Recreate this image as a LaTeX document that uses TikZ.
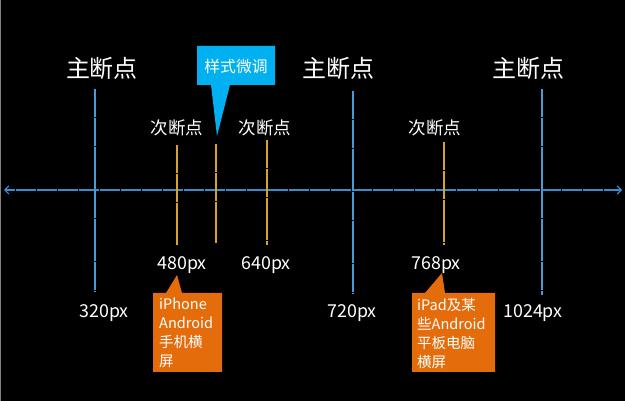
\documentclass[tikz,border=0pt]{standalone}
\usepackage{fontspec}
\setmainfont{Noto Sans CJK SC}
\usetikzlibrary{arrows.meta}
\definecolor{axisblue}{HTML}{3A8CCF}
\definecolor{mainblue}{HTML}{4A9AD8}
\definecolor{subyellow}{HTML}{D4A52A}
\definecolor{callblue}{HTML}{00B0F0}
\definecolor{callorange}{HTML}{E46C0A}
\tikzset{
  mainline/.style={mainblue, line width=1.3pt, dash pattern=on 14pt off 0.4pt},
  subline/.style={subyellow, line width=1.6pt, dash pattern=on 14pt off 0.4pt},
  axisline/.style={axisblue, line width=1.2pt, dash pattern=on 10pt off 0.5pt, {Straight Barb[length=4pt,width=8pt]}-{Straight Barb[length=4pt,width=8pt]}},
  mainlabel/.style={text=white, font=\fontsize{24}{27}\selectfont, inner sep=0pt},
  sublabel/.style={text=white, font=\fontsize{17.5}{20}\selectfont, inner sep=0pt},
  pxlabel/.style={text=white, font=\fontsize{17.8}{20}\selectfont, inner sep=0pt},
  calltext/.style={text=white, font=\fontsize{14.5}{19}\selectfont, inner sep=0pt, align=left, anchor=north west},
}
\begin{document}
\begin{tikzpicture}[x=1pt, y=-1pt]
\fill[black] (0,0) rectangle (625,401);
\useasboundingbox (0,0) rectangle (625,401);
\draw[gray, line width=1pt] (0.5,0) -- (0.5,401);
% axis
\coordinate (axL) at (4,190);
\coordinate (axR) at (622,190);
\draw[axisline] (axL) -- (axR);
% main breakpoints
\coordinate (m1t) at (95,89);  \coordinate (m1b) at (95,291);
\coordinate (m2t) at (353,91); \coordinate (m2b) at (353,293);
\coordinate (m3t) at (542,89); \coordinate (m3b) at (542,295);
\draw[mainline] (m1t) -- (m1b);
\draw[mainline] (m2t) -- (m2b);
\draw[mainline] (m3t) -- (m3b);
% secondary
\coordinate (s1t) at (177,145); \coordinate (s1b) at (177,245);
\coordinate (s2t) at (216,144); \coordinate (s2b) at (216,243);
\coordinate (s3t) at (267,140); \coordinate (s3b) at (267,245);
\coordinate (s4t) at (444,142); \coordinate (s4b) at (444,245);
\draw[subline] (s1t) -- (s1b);
\draw[subline, line width=1.2pt] (s2t) -- (s2b);
\draw[subline] (s3t) -- (s3b);
\draw[subline] (s4t) -- (s4b);
% labels
\node[mainlabel] (L1) at (102,68) {主断点};
\node[mainlabel] (L2) at (338,68) {主断点};
\node[mainlabel] (L3) at (528,68) {主断点};
\node[sublabel] (S1) at (177,128) {次断点};
\node[sublabel] (S2) at (265,128) {次断点};
\node[sublabel] (S3) at (435,128) {次断点};
\node[pxlabel] (P480) at (182,265) {480px};
\node[pxlabel] (P640) at (266,265) {640px};
\node[pxlabel] (P768) at (436,265) {768px};
\node[pxlabel] (P320) at (104,313) {320px};
\node[pxlabel] (P720) at (352,313) {720px};
\node[pxlabel] (P1024) at (533,313) {1024px};
% blue callout
\fill[callblue] (197,46) -- (275,46) -- (275,85) -- (230,85) -- (217,136) -- (211,85) -- (197,85) -- cycle;
\node[text=white, font=\fontsize{15.8}{18}\selectfont, inner sep=0pt] (C0) at (236,66) {样式微调};
% orange callouts
\fill[callorange] (153,293) -- (166,293) -- (177,275) -- (182,293) -- (222,293) -- (222,372) -- (153,372) -- cycle;
\node[calltext] (C1) at (159,298) {iPhone\\Android\\手机横\\屏};
\fill[callorange] (412,293) -- (425,293) -- (442,273) -- (445,293) -- (495,293) -- (495,372) -- (412,372) -- cycle;
\node[calltext] (C2) at (417,298) {iPad及某\\些Android\\平板电脑\\横屏};
\end{tikzpicture}
\end{document}
